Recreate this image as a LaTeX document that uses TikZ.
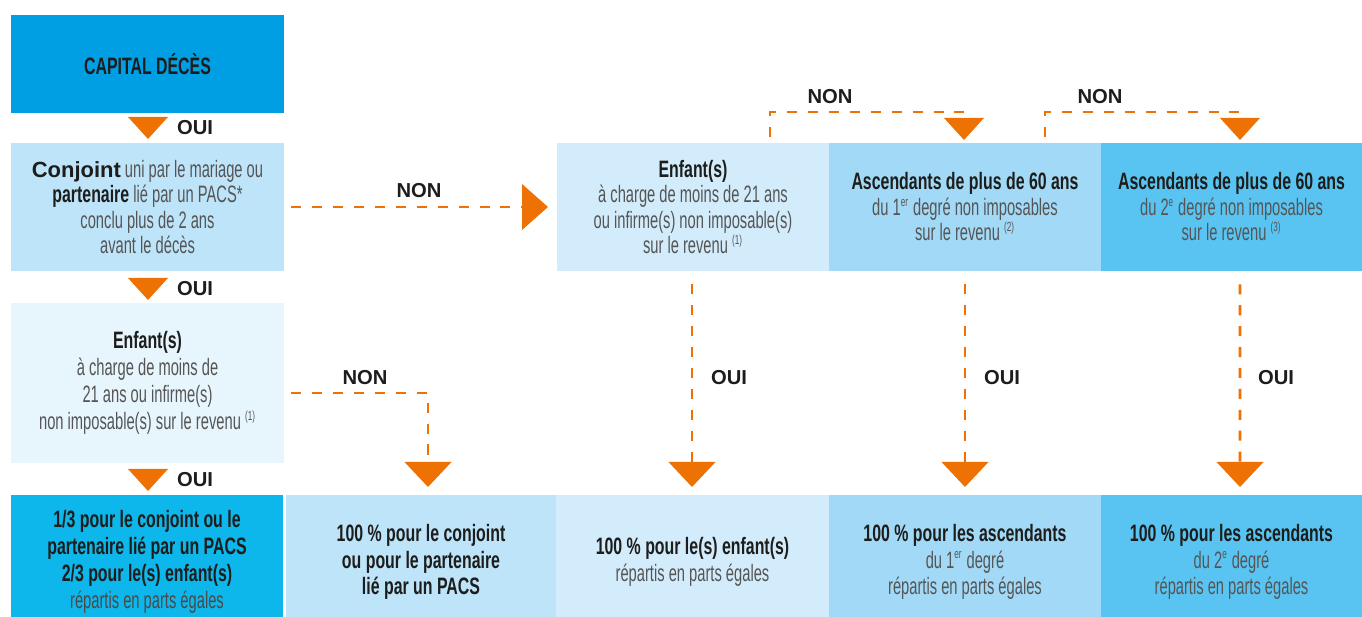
\documentclass[tikz,border=0pt]{standalone}
\usepackage{fontspec}
\setmainfont{Liberation Sans}[FakeStretch=0.62,BoldFeatures={FakeStretch=0.67}]
\newfontfamily\heavyfont{Liberation Sans}
\usetikzlibrary{calc}

\definecolor{capblue}{HTML}{009FE3}
\definecolor{paleblue}{HTML}{BDE4F9}
\definecolor{whiteblue}{HTML}{E7F5FD}
\definecolor{cyanres}{HTML}{0DB6EB}
\definecolor{lightblue}{HTML}{D3ECFB}
\definecolor{midblue}{HTML}{A2D9F6}
\definecolor{deepblue}{HTML}{59C4F1}
\definecolor{arrorange}{HTML}{EE7203}
\definecolor{txtgray}{HTML}{555555}
\definecolor{txtdark}{HTML}{1D1D1B}

\newcommand{\hd}[1]{{\color{txtdark}\bfseries #1}}
\newcommand{\sups}[1]{\textsuperscript{\fontsize{7.5}{8}\selectfont #1}}
\newcommand{\smalltri}[1]{\fill[arrorange,shift={(#1)}] (-20,-22) -- (20,-22) -- (0,0) -- cycle;}
\newcommand{\bigtri}[1]{\fill[arrorange,shift={(#1)}] (-23.5,-25) -- (23.5,-25) -- (0,0) -- cycle;}

\begin{document}
\begin{tikzpicture}[x=0.02cm,y=-0.02cm,
  box/.style={rectangle,inner sep=0pt,align=center,text=txtgray,font=\fontsize{13.5}{14.5}\selectfont},
  dashline/.style={draw=arrorange,line width=1.5pt,dash pattern=on 5.7pt off 6.2pt},
  yesno/.style={inner sep=0pt,text=txtdark,font=\heavyfont\bfseries\fontsize{11.5}{12}\selectfont}]
\useasboundingbox (0,0) rectangle (1362,617);

\node[box,fill=capblue,minimum width=5.46cm,minimum height=1.96cm] (cap) at (147.5,64) {\hd{CAPITAL DÉCÈS}};
\node[box,fill=paleblue,minimum width=5.46cm,minimum height=2.56cm] (conj) at (147.5,207) {{\heavyfont\bfseries\fontsize{12.5}{14.5}\selectfont\color{txtdark}Conjoint} uni par le mariage ou\\ \hd{partenaire} lié par un PACS*\\ conclu plus de 2 ans\\ avant le décès};
\node[box,fill=whiteblue,minimum width=5.46cm,minimum height=3.2cm,font=\fontsize{13.5}{15.5}\selectfont] (enfl) at (147.5,383) {\hd{Enfant(s)}\\ à charge de moins de\\ 21 ans ou infirme(s)\\ non imposable(s) sur le revenu \sups{(1)}};

\node[box,fill=lightblue,minimum width=5.44cm,minimum height=2.56cm] (enf) at (693,207) {\hd{Enfant(s)}\\ à charge de moins de 21 ans\\ ou infirme(s) non imposable(s)\\ sur le revenu \sups{(1)}};
\node[box,fill=midblue,minimum width=5.44cm,minimum height=2.56cm] (asc1) at (965,207) {\hd{Ascendants de plus de 60 ans}\\ du 1\sups{er} degré non imposables\\ sur le revenu \sups{(2)}};
\node[box,fill=deepblue,minimum width=5.22cm,minimum height=2.56cm] (asc2) at (1231.5,207) {\hd{Ascendants de plus de 60 ans}\\ du 2\sups{e} degré non imposables\\ sur le revenu \sups{(3)}};

\node[box,fill=cyanres,minimum width=5.44cm,minimum height=2.68cm,font=\fontsize{13.5}{15.5}\selectfont] (res1) at (147,562) {\hd{1/3 pour le conjoint ou le}\\ \hd{partenaire lié par un PACS}\\ \hd{2/3 pour le(s) enfant(s)}\\ {\color{txtdark!80}répartis en parts égales}};
\node[box,fill=paleblue,minimum width=5.4cm,minimum height=2.68cm,font=\fontsize{13.5}{15}\selectfont] (res2) at (421,562) {\hd{100~\% pour le conjoint}\\ \hd{ou pour le partenaire}\\ \hd{lié par un PACS}};
\node[box,fill=lightblue,minimum width=5.46cm,minimum height=2.68cm,font=\fontsize{13.5}{15}\selectfont] (res3) at (692.5,562) {\hd{100~\% pour le(s) enfant(s)}\\ répartis en parts égales};
\node[box,fill=midblue,minimum width=5.44cm,minimum height=2.68cm,font=\fontsize{13.5}{15}\selectfont] (res4) at (965,562) {\hd{100~\% pour les ascendants}\\ du 1\sups{er} degré\\ répartis en parts égales};
\node[box,fill=deepblue,minimum width=5.22cm,minimum height=2.68cm,font=\fontsize{13.5}{15}\selectfont] (res5) at (1231.5,562) {\hd{100~\% pour les ascendants}\\ du 2\sups{e} degré\\ répartis en parts égales};

\coordinate (t1) at (148,139);
\coordinate (t2) at (148,300);
\coordinate (t3) at (148,491);
\coordinate (tn) at (548,207);
\coordinate (ta) at (964,140);
\coordinate (tb) at (1240,140);
\coordinate (vl) at (428,487);
\coordinate (v1) at (692,487);
\coordinate (v2) at (965,487);
\coordinate (v3) at (1240,487);

\smalltri{t1}
\smalltri{t2}
\smalltri{t3}
\smalltri{ta}
\smalltri{tb}
\bigtri{vl}
\bigtri{v1}
\bigtri{v2}
\bigtri{v3}
\fill[arrorange] ($(tn)+(-26,-23)$) -- ($(tn)+(-26,23)$) -- (tn) -- cycle;

\draw[dashline] ($(conj.east)+(7,0)$) -- ($(tn)+(-26,0)$);
\draw[dashline] ($(enfl.east)+(7,10)$) -| ($(vl)+(0,-25)$);
\draw[dashline] ($(enf.north)+(77,-6)$) |- ($(ta)+(0,-28)$);
\draw[dashline] ($(asc1.north)+(80,-6)$) |- ($(tb)+(0,-28)$);
\draw[dashline] ($(enf.south)+(-1,13)$) -- ($(v1)+(0,-25)$);
\draw[dashline] ($(asc1.south)+(0,13)$) -- ($(v2)+(0,-25)$);
\draw[dashline] ($(asc2.south)+(8.5,13)$) -- ($(v3)+(0,-25)$);

\node[yesno] (oui1) at (195,128) {OUI};
\node[yesno] (oui2) at (195,289) {OUI};
\node[yesno] (oui3) at (195,480) {OUI};
\node[yesno] (non1) at (419,191) {NON};
\node[yesno] (non2) at (365,378) {NON};
\node[yesno] (non3) at (830,97) {NON};
\node[yesno] (non4) at (1100,97) {NON};
\node[yesno] (oui4) at (729,378) {OUI};
\node[yesno] (oui5) at (1002,378) {OUI};
\node[yesno] (oui6) at (1276,378) {OUI};
\end{tikzpicture}
\end{document}
